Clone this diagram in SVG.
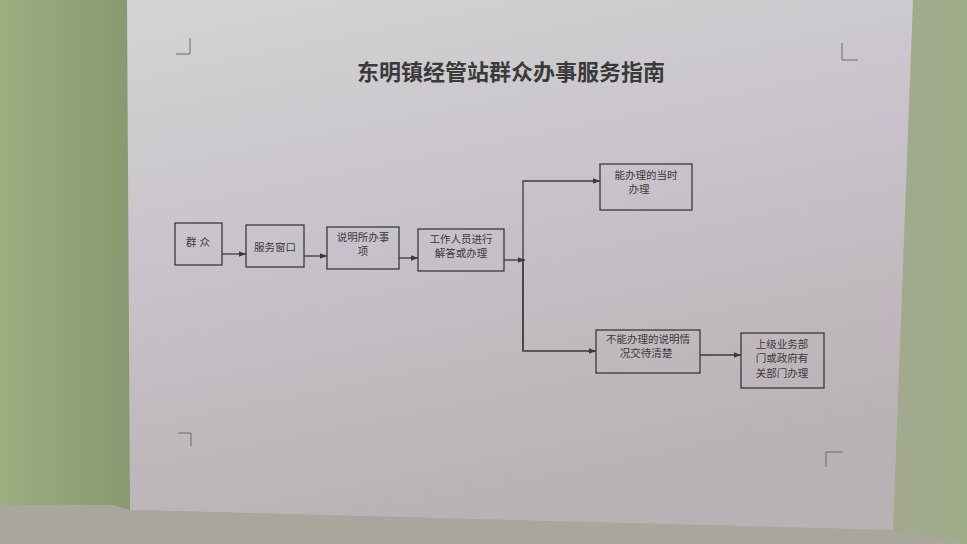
<svg xmlns="http://www.w3.org/2000/svg" width="967" height="544" viewBox="0 0 967 544">
<defs>
<linearGradient id="bg" x1="0" y1="0" x2="1" y2="0">
<stop offset="0" stop-color="#9aae80"/>
<stop offset="0.13" stop-color="#8a9a70"/>
<stop offset="0.9" stop-color="#a4a890"/>
<stop offset="1" stop-color="#9fac88"/>
</linearGradient>
<linearGradient id="page" x1="0" y1="0" x2="0.3" y2="1">
<stop offset="0" stop-color="#d4d3d5"/>
<stop offset="0.5" stop-color="#c7c2c9"/>
<stop offset="1" stop-color="#b9b2b5"/>
</linearGradient>
<marker id="arr" viewBox="0 0 10 10" refX="10" refY="5" markerWidth="7" markerHeight="7" markerUnits="userSpaceOnUse" orient="auto">
<path d="M0,1 L10,5 L0,9 z" fill="#3a3a3a"/>
</marker>
</defs>
<style>
.box{fill:none;stroke:#3a3a3a;stroke-width:1.3}
.lbl{font-family:"Liberation Sans","Noto Sans CJK SC",sans-serif;font-size:10.5px;fill:#3a3a3a;text-anchor:middle}
.con{fill:none;stroke:#3a3a3a;stroke-width:1.3}
.mark{fill:none;stroke:#6a6a6a;stroke-width:1}
</style>
<rect x="0" y="0" width="967" height="544" fill="url(#bg)"/>
<polygon points="113,505 130,510 893,530 967,544 0,544 0,505" fill="#a8a69d"/>
<polygon points="127,0 913,0 893,530 130,510" fill="url(#page)"/>
<path class="mark" d="M190,38 V54 H176"/>
<path class="mark" d="M842,43 V60 H858"/>
<path class="mark" d="M178,433 H191 V446"/>
<path class="mark" d="M843,452 H826 V467"/>
<text x="511" y="80" font-family="'Liberation Sans','Noto Sans CJK SC',sans-serif" font-size="22" font-weight="bold" fill="#3a3a3a" text-anchor="middle">东明镇经管站群众办事服务指南</text>
<g id="connectors">
<line class="con" x1="222" y1="254" x2="246" y2="254" marker-end="url(#arr)"/>
<line class="con" x1="304" y1="256" x2="327" y2="256" marker-end="url(#arr)"/>
<line class="con" x1="399" y1="258" x2="418" y2="258" marker-end="url(#arr)"/>
<line class="con" x1="504" y1="260" x2="525" y2="260" marker-end="url(#arr)"/>
<path class="con" d="M523,351 V181 H600" marker-end="url(#arr)"/>
<path class="con" d="M523,260 V351 H596" marker-end="url(#arr)"/>
<line class="con" x1="700" y1="355" x2="741" y2="355" marker-end="url(#arr)"/>
</g>
<g id="n1"><rect class="box" x="175" y="223" width="47" height="42"/><text class="lbl" x="198" y="246" font-size="12">群 众</text></g>
<g id="n2"><rect class="box" x="246" y="225" width="58" height="42"/><text class="lbl" x="275" y="251">服务窗口</text></g>
<g id="n3"><rect class="box" x="327" y="227" width="72" height="42"/><text class="lbl" x="363" y="241">说明所办事</text><text class="lbl" x="363" y="255">项</text></g>
<g id="n4"><rect class="box" x="418" y="229" width="86" height="42"/><text class="lbl" x="461" y="243">工作人员进行</text><text class="lbl" x="461" y="257">解答或办理</text></g>
<g id="n5"><rect class="box" x="600" y="164" width="92" height="46"/><text class="lbl" x="646" y="179">能办理的当时</text><text class="lbl" x="639" y="193">办理</text></g>
<g id="n6"><rect class="box" x="596" y="330" width="104" height="43"/><text class="lbl" x="648" y="343">不能办理的说明情</text><text class="lbl" x="646" y="357">况交待清楚</text></g>
<g id="n7"><rect class="box" x="741" y="333" width="83" height="55"/><text class="lbl" x="782" y="348">上级业务部</text><text class="lbl" x="782" y="362">门或政府有</text><text class="lbl" x="782" y="377">关部门办理</text></g>
</svg>
